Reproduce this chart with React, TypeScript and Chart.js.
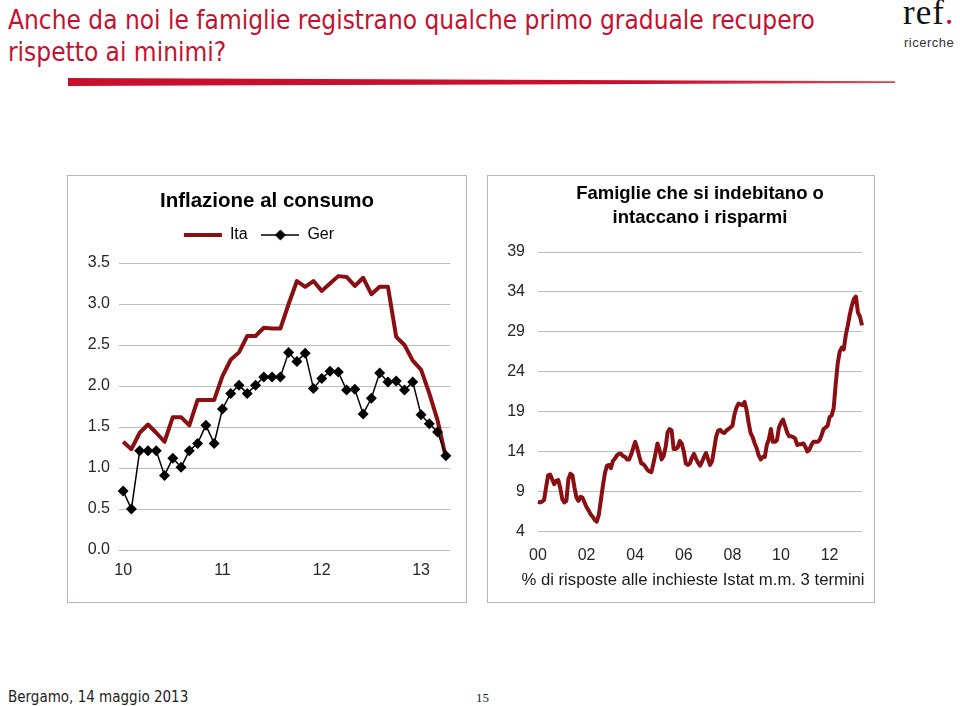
import React, { useEffect, useRef } from 'react';
import { Chart, registerables } from 'chart.js';

Chart.register(...registerables);

// ---------- data ----------
const LINE_RED = '#8A0F12';

// Inflazione al consumo: monthly, Jan 2010 - Apr 2013 (40 months)
const inflStartYear = 2010;
const inflMonthCount = 40;
const inflTickMonths = ['2010-01', '2011-01', '2012-01', '2013-01'];
const inflTickLabels = ['10', '11', '12', '13'];
const itaValues = [
  1.32, 1.23, 1.43, 1.53, 1.43, 1.32, 1.62, 1.62, 1.52, 1.83, 1.83, 1.83,
  2.12, 2.32, 2.41, 2.61, 2.61, 2.71, 2.70, 2.70, 3.0, 3.28, 3.21, 3.28,
  3.16, 3.25, 3.34, 3.33, 3.22, 3.32, 3.12, 3.21, 3.21, 2.60, 2.50, 2.31,
  2.20, 1.91, 1.58, 1.13,
];
const gerValues = [
  0.72, 0.50, 1.21, 1.21, 1.21, 0.91, 1.12, 1.01, 1.21, 1.30, 1.52, 1.30,
  1.72, 1.91, 2.01, 1.91, 2.01, 2.11, 2.11, 2.11, 2.41, 2.30, 2.40, 1.97,
  2.09, 2.18, 2.17, 1.95, 1.96, 1.66, 1.85, 2.16, 2.05, 2.06, 1.95, 2.05,
  1.65, 1.54, 1.44, 1.15,
];
const inflYMin = 0;
const inflYMax = 3.5;
const inflYStep = 0.5;

// Famiglie che si indebitano o intaccano i risparmi: monthly, Jan 2000 - May 2013
const famStartYear = 2000;
const famMonthCount = 161;
const famTickMonths = ['2000-01', '2002-01', '2004-01', '2006-01', '2008-01', '2010-01', '2012-01'];
const famTickLabels = ['00', '02', '04', '06', '08', '10', '12'];
const famValues = [
  7.7, 7.6, 7.7, 7.9, 9.5, 11.0, 11.1, 10.5, 9.9, 10.3, 10.4, 9.4,
  8.0, 7.6, 7.8, 10.5, 11.2, 11.0, 9.5, 8.2, 7.8, 8.3, 8.2, 7.6,
  7.0, 6.6, 6.1, 5.8, 5.4, 5.2, 6.0, 7.8, 9.6, 11.2, 12.2, 12.3,
  11.9, 12.8, 13.1, 13.5, 13.7, 13.7, 13.4, 13.3, 13.0, 13.0, 13.6, 14.4,
  15.2, 14.4, 13.4, 12.5, 12.4, 12.1, 11.7, 11.5, 11.4, 12.5, 13.7, 15.0,
  14.2, 13.0, 13.4, 14.5, 16.4, 16.8, 16.6, 14.3, 14.3, 14.5, 15.3, 15.0,
  14.0, 12.5, 12.3, 12.5, 13.2, 13.7, 13.1, 12.6, 12.2, 12.7, 13.3, 13.8,
  13.0, 12.3, 12.8, 14.3, 15.9, 16.6, 16.7, 16.4, 16.3, 16.6, 16.8, 17.0,
  17.2, 18.6, 19.5, 20.0, 19.9, 19.8, 20.2, 19.2, 17.6, 16.3, 15.8, 15.0,
  14.4, 13.5, 13.0, 13.3, 13.3, 14.8, 15.5, 16.8, 15.2, 15.2, 15.4, 17.0,
  17.6, 18.0, 17.2, 16.4, 15.9, 15.9, 15.8, 15.6, 14.8, 14.9, 14.9, 15.0,
  14.6, 14.0, 14.2, 14.8, 15.2, 15.2, 15.2, 15.4, 16.0, 16.8, 17.0, 17.2,
  18.3, 18.5, 19.4, 22.4, 25.0, 26.5, 27.0, 26.8, 28.6, 29.8, 31.2, 32.3,
  33.1, 33.4, 31.4, 30.9, 29.8,
];
const famYMin = 4;
const famYMax = 39;
const famYStep = 5;
const famNote = '% di risposte alle inchieste Istat m.m. 3 termini';

function monthLabels(startYear: number, count: number): string[] {
  const out: string[] = [];
  for (let i = 0; i < count; i++) {
    const y = startYear + Math.floor(i / 12);
    const m = (i % 12) + 1;
    out.push(`${y}-${m < 10 ? '0' + m : m}`);
  }
  return out;
}

const FONT = "'Liberation Sans', Arial, sans-serif";
const TICK_COLOR = '#262626';
const GRID_COLOR = '#BEBEBE';

// centre the chart title over the whole canvas (not only the padded width)
const fullWidthTitle = {
  id: 'fullWidthTitle',
  afterLayout(chart: any) {
    const t = chart.titleBlock;
    if (t) {
      t.left = 0;
      t.right = chart.width;
      t.width = chart.width;
    }
  },
};

// let the bottom note run a little wider than the plot, as in the original
const wideNote = {
  id: 'wideNote',
  afterLayout(chart: any) {
    const boxes = chart.boxes || [];
    for (const b of boxes) {
      if (b && b.options && b.options.text === famNote) {
        b.left = 24;
        b.right = chart.width;
        b.width = chart.width - 24;
      }
    }
  },
};

// ---------- charts ----------
function InflationChart() {
  const ref = useRef<HTMLCanvasElement | null>(null);
  useEffect(() => {
    const canvas = ref.current;
    if (!canvas) return;
    const months = monthLabels(inflStartYear, inflMonthCount);

    const gerImg = document.createElement('canvas');
    gerImg.width = 38;
    gerImg.height = 12;
    const g = gerImg.getContext('2d')!;
    g.strokeStyle = '#000';
    g.lineWidth = 1.5;
    g.beginPath();
    g.moveTo(0, 6);
    g.lineTo(38, 6);
    g.stroke();
    g.fillStyle = '#000';
    g.beginPath();
    g.moveTo(19, 0.5);
    g.lineTo(24.5, 6);
    g.lineTo(19, 11.5);
    g.lineTo(13.5, 6);
    g.closePath();
    g.fill();

    const chart = new Chart(canvas, {
      type: 'line',
      data: {
        labels: months,
        datasets: [
          {
            label: 'Ita',
            data: itaValues,
            borderColor: LINE_RED,
            backgroundColor: LINE_RED,
            borderWidth: 4,
            pointRadius: 0,
            tension: 0,
            borderJoinStyle: 'round',
            order: 1,
          },
          {
            label: 'Ger',
            data: gerValues,
            borderColor: '#000',
            backgroundColor: '#000',
            borderWidth: 1.5,
            pointStyle: 'rectRot',
            pointRadius: 5.5,
            pointBackgroundColor: '#000',
            pointBorderColor: '#000',
            pointBorderWidth: 0,
            tension: 0,
            order: 0,
          },
        ],
      },
      plugins: [fullWidthTitle],
      options: {
        responsive: false,
        maintainAspectRatio: false,
        devicePixelRatio: 1,
        animation: false,
        events: [],
        layout: { padding: { top: 0, left: 0, right: 16, bottom: 0 } },
        plugins: {
          tooltip: { enabled: false },
          title: {
            display: true,
            text: 'Inflazione al consumo',
            color: '#000',
            font: { family: FONT, size: 20.5, weight: 'bold' },
            padding: { top: 12.7, bottom: 0 },
          },
          subtitle: {
            display: true,
            text: '',
            position: 'top',
            weight: 0,
            padding: 0,
            font: { family: FONT, size: 10, lineHeight: 1 },
          },
          legend: {
            display: true,
            position: 'top',
            labels: {
              usePointStyle: true,
              pointStyleWidth: 38,
              padding: 13.7,
              color: '#1a1a1a',
              font: { family: FONT, size: 16 },
              generateLabels: () => [
                {
                  text: 'Ita',
                  pointStyle: 'line',
                  strokeStyle: LINE_RED,
                  fillStyle: LINE_RED,
                  lineWidth: 4,
                  hidden: false,
                  datasetIndex: 0,
                },
                {
                  text: 'Ger',
                  pointStyle: gerImg as any,
                  strokeStyle: '#000',
                  fillStyle: '#000',
                  lineWidth: 0,
                  hidden: false,
                  datasetIndex: 1,
                },
              ],
            },
          },
        },
        scales: {
          x: {
            type: 'category',
            offset: true,
            grid: { display: false, drawTicks: false },
            border: { display: false },
            afterBuildTicks: (scale: any) => {
              scale.ticks = scale.ticks.filter((t: any) => inflTickMonths.includes(months[t.value]));
            },
            afterFit: (scale: any) => {
              scale.height = 52;
            },
            ticks: {
              autoSkip: false,
              maxRotation: 0,
              padding: 11.4,
              color: TICK_COLOR,
              font: { family: FONT, size: 16 },
              callback: (value: any) => {
                const idx = inflTickMonths.indexOf(months[value as number]);
                return idx >= 0 ? inflTickLabels[idx] : '';
              },
            },
          },
          y: {
            min: inflYMin,
            max: inflYMax,
            grid: { color: GRID_COLOR, lineWidth: 1, drawTicks: false },
            border: { display: false },
            afterFit: (scale: any) => {
              scale.width = 51;
            },
            ticks: {
              stepSize: inflYStep,
              padding: 9,
              color: TICK_COLOR,
              font: { family: FONT, size: 16 },
              callback: (v: any) => Number(v).toFixed(1),
            },
          },
        },
      },
    } as any);
    return () => chart.destroy();
  }, []);
  return <canvas ref={ref} width={398} height={426} style={{ display: 'block' }} />;
}

function FamilyChart() {
  const ref = useRef<HTMLCanvasElement | null>(null);
  useEffect(() => {
    const canvas = ref.current;
    if (!canvas) return;
    const months = monthLabels(famStartYear, famMonthCount);
    const chart = new Chart(canvas, {
      type: 'line',
      data: {
        labels: months,
        datasets: [
          {
            label: 'Famiglie',
            data: famValues,
            borderColor: LINE_RED,
            backgroundColor: LINE_RED,
            borderWidth: 4,
            pointRadius: 0,
            tension: 0,
            borderJoinStyle: 'round',
          },
        ],
      },
      plugins: [wideNote],
      options: {
        responsive: false,
        maintainAspectRatio: false,
        devicePixelRatio: 1,
        animation: false,
        events: [],
        layout: { padding: { top: 0, left: 0, right: 12, bottom: 0 } },
        plugins: {
          tooltip: { enabled: false },
          legend: { display: false },
          title: {
            display: true,
            text: ['Famiglie che si indebitano o', 'intaccano i risparmi'],
            color: '#000',
            fullSize: false,
            font: { family: FONT, size: 18.5, weight: 'bold', lineHeight: '24px' },
            padding: { top: 6, bottom: 22 },
          },
          subtitle: {
            display: true,
            text: famNote,
            position: 'bottom',
            color: '#1a1a1a',
            font: { family: FONT, size: 16.7, weight: 'normal' },
            padding: { top: 0.8, bottom: 12 },
          },
        },
        scales: {
          x: {
            type: 'category',
            offset: false,
            grid: { display: false, drawTicks: false },
            border: { display: false },
            afterBuildTicks: (scale: any) => {
              scale.ticks = scale.ticks.filter((t: any) => famTickMonths.includes(months[t.value]));
            },
            afterFit: (scale: any) => {
              scale.height = 38;
            },
            ticks: {
              autoSkip: false,
              maxRotation: 0,
              padding: 14.4,
              color: TICK_COLOR,
              font: { family: FONT, size: 16 },
              callback: (value: any) => {
                const idx = famTickMonths.indexOf(months[value as number]);
                return idx >= 0 ? famTickLabels[idx] : '';
              },
            },
          },
          y: {
            min: famYMin,
            max: famYMax,
            grid: { color: GRID_COLOR, lineWidth: 1, drawTicks: false },
            border: { display: false },
            afterFit: (scale: any) => {
              scale.width = 50;
            },
            ticks: {
              stepSize: famYStep,
              padding: 13,
              color: TICK_COLOR,
              font: { family: FONT, size: 16 },
            },
          },
        },
      },
    } as any);
    return () => chart.destroy();
  }, []);
  return <canvas ref={ref} width={386} height={426} style={{ display: 'block' }} />;
}

// ---------- page ----------
const boxBorder = '1px solid #BDB6B6';

export default function App() {
  return (
    <div
      style={{
        position: 'absolute',
        left: 0,
        top: 0,
        width: 960,
        height: 706,
        overflow: 'hidden',
        background: '#fff',
      }}
    >
      <div
        style={{
          position: 'absolute',
          left: 8,
          top: 5,
          fontFamily: "'DejaVu Sans Condensed', 'DejaVu Sans', sans-serif",
          fontStretch: 'condensed',
          fontSize: 26,
          lineHeight: '31.5px',
          color: '#C8102E',
          whiteSpace: 'nowrap',
        }}
      >
        Anche da noi le famiglie registrano qualche primo graduale recupero
        <br />
        rispetto ai minimi?
      </div>

      <div
        style={{
          position: 'absolute',
          left: 68,
          top: 78,
          width: 827,
          height: 8,
          background: 'linear-gradient(to right, #C8102E 0%, #C8102E 70%, #D9475A 100%)',
          clipPath: 'polygon(0 0, 100% 42%, 100% 62%, 0 100%)',
        }}
      />

      <div
        style={{
          position: 'absolute',
          left: 903,
          top: -3.8,
          fontFamily: "'Liberation Serif', 'Times New Roman', serif",
          fontSize: 35,
          lineHeight: '34px',
          letterSpacing: 1,
          color: '#111',
          whiteSpace: 'nowrap',
        }}
      >
        ref<span style={{ color: '#C8102E' }}>.</span>
      </div>
      <div
        style={{
          position: 'absolute',
          left: 904,
          top: 36,
          fontFamily: FONT,
          fontSize: 13,
          lineHeight: '13px',
          letterSpacing: 0.5,
          color: '#333',
          whiteSpace: 'nowrap',
        }}
      >
        ricerche
      </div>

      <div
        style={{
          position: 'absolute',
          left: 67,
          top: 175,
          width: 398,
          height: 426,
          border: boxBorder,
          background: '#fff',
        }}
      >
        <InflationChart />
      </div>

      <div
        style={{
          position: 'absolute',
          left: 487,
          top: 175,
          width: 386,
          height: 426,
          border: boxBorder,
          background: '#fff',
        }}
      >
        <FamilyChart />
      </div>

      <div
        style={{
          position: 'absolute',
          left: 8,
          top: 687.5,
          fontFamily: "'DejaVu Sans Condensed', 'DejaVu Sans', sans-serif",
          fontStretch: 'condensed',
          fontSize: 15,
          lineHeight: '18px',
          color: '#222',
          whiteSpace: 'nowrap',
        }}
      >
        Bergamo, 14 maggio 2013
      </div>
      <div
        style={{
          position: 'absolute',
          left: 476,
          top: 690.5,
          fontFamily: "'Liberation Serif', 'Times New Roman', serif",
          fontSize: 13,
          lineHeight: '14px',
          color: '#222',
        }}
      >
        15
      </div>
    </div>
  );
}
